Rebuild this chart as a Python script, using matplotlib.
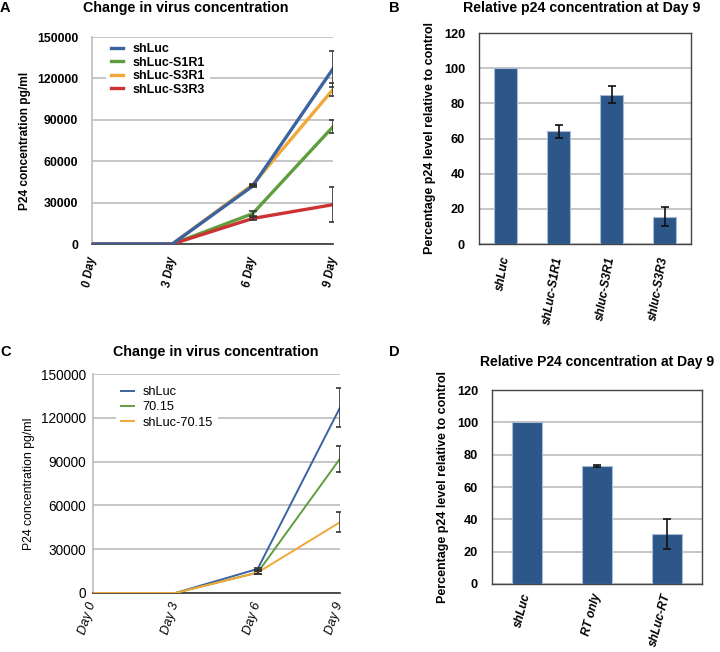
import matplotlib
matplotlib.use("Agg")
import matplotlib.pyplot as plt
import numpy as np

plt.rcParams['font.family'] = ['Liberation Sans', 'DejaVu Sans']

# ---- Panel A data ----
days_a = ["0 Day", "3 Day", "6 Day", "9 Day"]
a_names = ["shLuc", "shLuc-S1R1", "shLuc-S3R1", "shLuc-S3R3"]
a_shluc = [0, 0, 42000, 127000]
a_shluc_err = [0, 0, 1000, 13000]
a_s1r1 = [0, 0, 22000, 85000]
a_s1r1_err = [0, 0, 2000, 4500]
a_s3r1 = [0, 0, 43000, 112000]
a_s3r1_err = [0, 0, 800, 5000]
a_s3r3 = [0, 0, 18500, 28500]
a_s3r3_err = [0, 0, 1000, 12500]

# ---- Panel B data ----
b_cats = ["shLuc", "shLuc-S1R1", "shluc-S3R1", "shluc-S3R3"]
b_vals = [100, 64, 85, 15.5]
b_err = [0, 3.5, 5, 5.5]

# ---- Panel C data ----
days_c = ["Day 0", "Day 3", "Day 6", "Day 9"]
c_names = ["shLuc", "70.15", "shLuc-70.15"]
c_shluc = [0, 0, 16500, 127000]
c_shluc_err = [0, 0, 800, 13500]
c_7015 = [0, 0, 14000, 92000]
c_7015_err = [0, 0, 800, 9000]
c_sh7015 = [0, 0, 14000, 48500]
c_sh7015_err = [0, 0, 800, 7000]

# ---- Panel D data ----
d_cats = ["shLuc", "RT only", "shLuc-RT"]
d_vals = [100, 73, 31]
d_err = [0, 0.5, 9.5]

W, H = 720, 652
fig = plt.figure(figsize=(W / 100, H / 100), dpi=100)

def ax_px(l, t, r, b):
    return fig.add_axes([l / W, 1 - b / H, (r - l) / W, (b - t) / H])

def ftext(px, py, s, **kw):
    fig.text(px / W, 1 - py / H, s, **kw)

BLUE = "#3b63a0"
GREEN = "#5f9e3d"
ORANGE = "#f1a83b"
RED = "#cc3232"
BAR = "#2d5689"
GRID = "#bcbcbc"

def line_panel(ax, labels, series, errs, names, colors, lw, ylabel, weight,
               ytick_fs, ytick_pad, xtick_fs, xtick_pad, rot, ylab_fs,
               leg_fs, leg_anchor, leg_spacing):
    x = np.arange(len(labels))
    for s, n, c in zip(series, names, colors):
        ax.plot(x, s, color=c, lw=lw, label=n, zorder=3)
    for s, e in zip(series, errs):
        xe = [xi for xi, ei in zip(x, e) if ei > 0]
        ye = [si for si, ei in zip(s, e) if ei > 0]
        ee = [ei for ei in e if ei > 0]
        ax.errorbar(xe, ye, yerr=ee, fmt="none", ecolor="#333333", elinewidth=1.2,
                    capsize=2.8, capthick=1.2, zorder=4)
    ax.set_xlim(0, len(labels) - 1)
    ax.set_ylim(0, 150000)
    ax.set_yticks(np.arange(0, 150001, 30000))
    ax.yaxis.grid(True, color=GRID, lw=1.2)
    ax.set_axisbelow(True)
    for sp in ["top", "right"]:
        ax.spines[sp].set_visible(False)
    ax.spines["left"].set_color(GRID)
    ax.spines["left"].set_linewidth(1.2)
    ax.spines["bottom"].set_color("#333333")
    ax.spines["bottom"].set_linewidth(1.2)
    ax.tick_params(axis="y", length=0, labelsize=ytick_fs, pad=ytick_pad)
    ax.tick_params(axis="x", length=0, pad=xtick_pad)
    ax.set_xticks(x)
    ax.set_xticklabels(labels, rotation=rot, rotation_mode="anchor", ha="right",
                       va="center", style="italic", fontweight=weight, fontsize=xtick_fs)
    for t in ax.get_yticklabels():
        t.set_fontweight(weight)
    ax.set_ylabel(ylabel, fontsize=ylab_fs, fontweight=weight)
    leg = ax.legend(loc="upper left", bbox_to_anchor=leg_anchor, frameon=True,
                    fontsize=leg_fs, handlelength=1.0, handletextpad=0.7,
                    labelspacing=leg_spacing, borderpad=0.4, borderaxespad=0)
    leg.get_frame().set_edgecolor("none")
    leg.get_frame().set_facecolor("white")
    leg.get_frame().set_alpha(1)
    leg.get_frame().set_boxstyle("square", pad=0)
    for t in leg.get_texts():
        t.set_fontweight(weight)
    return ax

def bar_panel(ax, cats, vals, errs, width, xtick_fs, xtick_pad, rot, ylab_fs):
    x = np.arange(len(cats))
    ax.bar(x, vals, width=width, color=BAR, edgecolor="#a9bad3", lw=0.8, zorder=3)
    xe = [xi for xi, e in zip(x, errs) if e > 0]
    ye = [v for v, e in zip(vals, errs) if e > 0]
    ee = [e for e in errs if e > 0]
    ax.errorbar(xe, ye, yerr=ee, fmt="none", ecolor="#111111", elinewidth=1.2,
                capsize=2.8, capthick=1.2, zorder=4)
    ax.set_xlim(-0.5, len(cats) - 0.5)
    ax.set_ylim(0, 120)
    ax.set_yticks(np.arange(0, 121, 20))
    ax.yaxis.grid(True, color=GRID, lw=1.2)
    ax.set_axisbelow(True)
    for sp in ax.spines.values():
        sp.set_color("#444444")
        sp.set_linewidth(1.0)
    ax.tick_params(axis="y", length=0, labelsize=9.2, pad=10)
    ax.tick_params(axis="x", length=0, pad=xtick_pad)
    for t in ax.get_yticklabels():
        t.set_fontweight("bold")
    ax.set_xticks(x)
    ax.set_xticklabels(cats, rotation=rot, rotation_mode="anchor", ha="right",
                       va="center", style="italic", fontweight="bold", fontsize=xtick_fs)
    ax.set_ylabel("Percentage p24 level relative to control", fontsize=ylab_fs,
                  fontweight="bold", labelpad=6)
    return ax

# Panel A
axA = ax_px(92, 37, 333, 244)
line_panel(axA, days_a, [a_shluc, a_s1r1, a_s3r1, a_s3r3],
           [a_shluc_err, a_s1r1_err, a_s3r1_err, a_s3r3_err], a_names,
           [BLUE, GREEN, ORANGE, RED], 2.4, "P24 concentration pg/ml", "bold",
           8.8, 10, 8.3, 9, 80, 8.6, 9, (0.058, 0.995), 0.12)
axA.lines[0].set_zorder(3.5)
ftext(186, 8, "Change in virus concentration", fontsize=10.3, fontweight="bold",
      ha="center", va="center")

# Panel B
axB = ax_px(479, 33, 691, 244)
bar_panel(axB, b_cats, b_vals, b_err, 0.42, 8.6, 9, 80, 9.0)
ftext(582, 8, "Relative p24 concentration at Day 9", fontsize=10.2, fontweight="bold",
      ha="center", va="center")

# Panel C
axC = ax_px(93, 374, 340, 593)
line_panel(axC, days_c, [c_shluc, c_7015, c_sh7015],
           [c_shluc_err, c_7015_err, c_sh7015_err], c_names,
           [BLUE, GREEN, ORANGE], 1.4, "P24 concentration pg/ml", "normal",
           9.8, 5, 9.2, 7, 72, 8.8, 9.2, (0.093, 0.968), 0.25)
ftext(216, 352, "Change in virus concentration", fontsize=10.3, fontweight="bold",
      ha="center", va="center")

# Panel D
axD = ax_px(492, 390, 702, 584)
bar_panel(axD, d_cats, d_vals, d_err, 0.43, 8.6, 7, 75, 9.0)
ftext(597, 362, "Relative P24 concentration at Day 9", fontsize=10.0, fontweight="bold",
      ha="center", va="center")

# Panel letters
for lab, (px, py) in {"A": (0, 8), "B": (389, 8), "C": (0, 352), "D": (389, 352)}.items():
    ftext(px, py, lab, fontsize=10.5, fontweight="bold", va="center", ha="left")

fig.savefig("out.png", dpi=100)
